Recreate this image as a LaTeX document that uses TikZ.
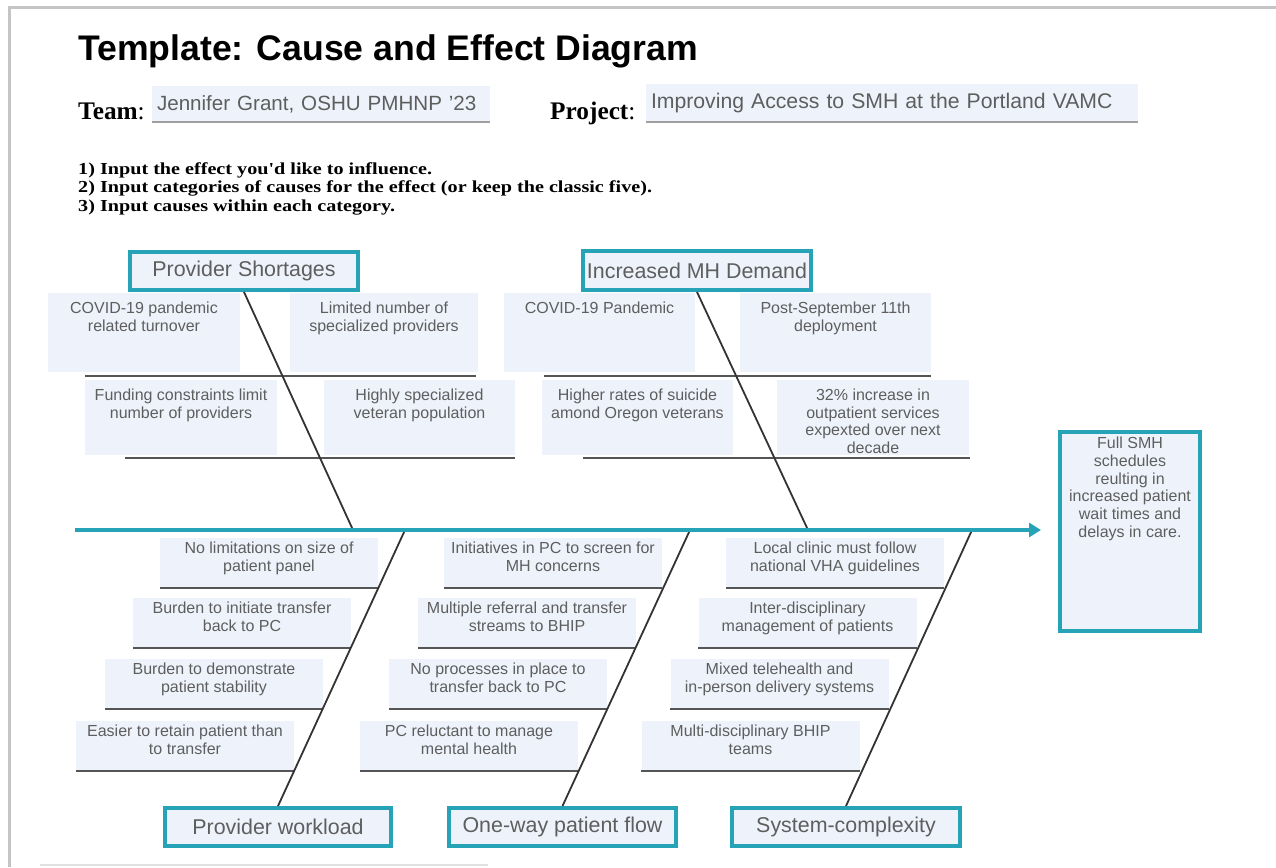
\documentclass[tikz,border=0pt]{standalone}
\usepackage{fontspec}
\setmainfont{Liberation Sans}
\newfontfamily\formfont{Liberation Serif}
\newfontfamily\stepsfont{Liberation Serif}[FakeStretch=1.2]
\usetikzlibrary{positioning,arrows.meta}
\usepackage{xcolor}
\definecolor{spineteal}{HTML}{26A3B7}
\definecolor{boxfill}{HTML}{EEF3FB}
\definecolor{txtgray}{HTML}{5E5E5E}
\definecolor{rulegray}{HTML}{555555}
\definecolor{bonegray}{HTML}{333333}
\definecolor{pageedge}{HTML}{C4C4C4}

\tikzset{
  catbox/.style={draw=spineteal,line width=4pt,fill=boxfill,text=txtgray,inner sep=0pt,font=\fontsize{21.4}{24}\selectfont},
  causebox/.style={fill=boxfill,inner sep=0pt},
  causetext/.style={anchor=north,align=center,text=txtgray,inner sep=0pt,font=\fontsize{16}{17.7}\selectfont},
  topcause/.style={causebox,label={[causetext,yshift=-9]north:{#1}}},
  lowcause/.style={causebox,minimum width=218,minimum height=50,label={[causetext,yshift=-4]north:{#1}}},
  causeline/.style={draw=rulegray,line width=2.5pt},
  bone/.style={draw=bonegray,line width=1.8pt},
  field/.style={fill=boxfill,text=txtgray,align=left,inner xsep=5pt,inner ysep=0pt,font=\fontsize{20.6}{24}\selectfont},
}

\begin{document}
\begin{tikzpicture}[x=1pt,y=-1pt,>={Triangle[length=12pt,width=14pt]}]
\useasboundingbox (0,0) rectangle (1276,867);
% page edge
\draw[pageedge,line width=3pt] (9,867) -- (9,8) -- (1276,8);
\draw[pageedge!50,line width=1.5pt] (40,865) -- (488,865);

% heading and form fields
\node[anchor=base west,inner sep=0pt,font=\fontsize{35.6}{40}\selectfont\bfseries] (title) at (78,60) {Template: Cause and Effect Diagram};
\node[anchor=base west,inner sep=0pt,font=\formfont\fontsize{25.3}{28}\selectfont] (teamlbl) at (78,119) {\textbf{Team}:};
\node[field,text width=328,minimum height=36] (team) at (321,104) {Jennifer Grant, OSHU PMHNP '23};
\node[anchor=base west,inner sep=0pt,font=\formfont\fontsize{25.3}{28}\selectfont] (projlbl) at (550,119) {\textbf{Project}:};
\node[field,text width=482,minimum height=38,font=\fontsize{21.2}{24}\selectfont] (project) at (892,103) {Improving Access to SMH at the Portland VAMC};
\draw[draw=gray!75,line width=2pt] (team.south west) -- (team.south east);
\draw[draw=gray!75,line width=2pt] (project.south west) -- (project.south east);

\node[anchor=north west,align=left,inner sep=0pt,font=\stepsfont\bfseries\fontsize{16.8}{18.5}\selectfont] (steps) at (78,162)
  {1) Input the effect you'd like to influence.\\
   2) Input categories of causes for the effect (or keep the classic five).\\
   3) Input causes within each category.};

% categories and effect
\node[catbox,minimum width=228,minimum height=38] (shortage) at (244,271) {Provider Shortages};
\node[catbox,minimum width=228,minimum height=39] (demand) at (697,270.5) {Increased MH Demand};
\node[catbox,minimum width=226,minimum height=38] (workload) at (278,827) {Provider workload};
\node[catbox,minimum width=227,minimum height=38] (oneway) at (562.5,827) {One-way patient flow};
\node[catbox,minimum width=228,minimum height=38] (complex) at (846,827) {System-complexity};
\node[catbox,minimum width=140,minimum height=199,
  label={[causetext,yshift=-7]north:{Full SMH\\schedules\\reulting in\\increased patient\\wait times and\\delays in care.}}] (effect) at (1130,531.5) {};

% causes above the spine
\node[topcause={COVID-19 pandemic\\related turnover},minimum width=192,minimum height=79] (covidturn) at (144,332.5) {};
\node[topcause={Limited number of\\specialized providers},minimum width=188,minimum height=79] (limited) at (384,332.5) {};
\node[topcause={Funding constraints limit\\number of providers},minimum width=192,minimum height=75] (funding) at (181,417.5) {};
\node[topcause={Highly specialized\\veteran population},minimum width=191,minimum height=75] (specialized) at (419.5,417.5) {};
\node[topcause={COVID-19 Pandemic},minimum width=191,minimum height=79] (covidpand) at (599.5,332.5) {};
\node[topcause={Post-September 11th\\deployment},minimum width=191,minimum height=79] (postsept) at (835.5,332.5) {};
\node[topcause={Higher rates of suicide\\amond Oregon veterans},minimum width=191,minimum height=75] (suicide) at (637.5,417.5) {};
\node[topcause={32\% increase in\\outpatient services\\expexted over next\\decade},minimum width=192,minimum height=75] (outpatient) at (873,417.5) {};

\draw[causeline] (85,376) -- (476,376);
\draw[causeline] (125,458) -- (515,458);
\draw[causeline] (544,376) -- (931,376);
\draw[causeline] (583,458) -- (970,458);

% causes below the spine
\node[lowcause={No limitations on size of\\patient panel}] (panel) at (269,563) {};
\node[lowcause={Burden to initiate transfer\\back to PC}] (initiate) at (242,623) {};
\node[lowcause={Burden to demonstrate\\patient stability}] (stability) at (214,684) {};
\node[lowcause={Easier to retain patient than\\to transfer}] (retain) at (185,746) {};
\node[lowcause={Initiatives in PC to screen for\\MH concerns}] (screen) at (553,563) {};
\node[lowcause={Multiple referral and transfer\\streams to BHIP}] (streams) at (527,623) {};
\node[lowcause={No processes in place to\\transfer back to PC}] (noprocess) at (498,684) {};
\node[lowcause={PC reluctant to manage\\mental health}] (reluctant) at (469,746) {};
\node[lowcause={Local clinic must follow\\national VHA guidelines}] (local) at (835,563) {};
\node[lowcause={Inter-disciplinary\\management of patients}] (interdisc) at (807.5,623) {};
\node[lowcause={Mixed telehealth and\\in-person delivery systems}] (mixed) at (779.5,684) {};
\node[lowcause={Multi-disciplinary BHIP\\teams}] (multidisc) at (750.5,746) {};

\foreach \c in {panel,initiate,stability,retain,screen,streams,noprocess,reluctant,local,interdisc,mixed,multidisc}
  \draw[causeline] (\c.south west) -- (\c.south east);

% bones
\coordinate (shortageend) at (353,530);
\coordinate (demandend) at (808,530);
\coordinate (workloadend) at (405,530);
\coordinate (onewayend) at (690,530);
\coordinate (complexend) at (972,530);
\draw[bone] (shortage.south) -- (shortageend);
\draw[bone] (demand.south) -- (demandend);
\draw[bone] (workloadend) -- (workload.north);
\draw[bone] (onewayend) -- (oneway.north);
\draw[bone] (complexend) -- (complex.north);

% spine
\coordinate (spinestart) at (75,530);
\draw[->,draw=spineteal,line width=4pt,shorten >=17pt] (spinestart) -- (spinestart -| effect.west);
\end{tikzpicture}
\end{document}
